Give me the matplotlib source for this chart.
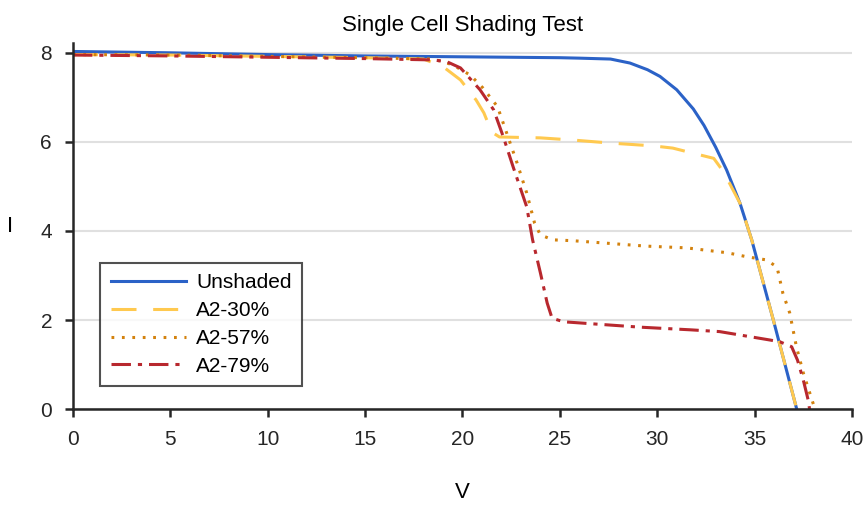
import matplotlib.pyplot as plt
import numpy as np

plt.rcParams['font.family'] = ['Liberation Sans', 'DejaVu Sans']
plt.rcParams['lines.scale_dashes'] = False

# unshaded curve
v_unshaded = [0, 5, 10, 15, 20, 25, 26, 27.6, 28.6, 29.5, 30.14, 31.0, 31.85, 32.4, 33.0,
              33.56, 34.25, 34.85, 35.96, 37.16]
i_unshaded = [8.03, 8.0, 7.96, 7.93, 7.91, 7.89, 7.88, 7.86, 7.77, 7.62, 7.47, 7.17, 6.74, 6.37,
              5.88, 5.37, 4.62, 3.8, 2.0, 0.0]

v_a30 = [0, 5, 10, 15, 18.0, 19.0, 19.9, 20.7, 21.1, 21.5, 21.9, 24.0, 25.7, 27.7, 29.8,
         30.8, 31.8, 32.9, 33.4, 34.25, 34.85, 35.96, 37.16]
i_a30 = [7.96, 7.95, 7.92, 7.89, 7.86, 7.69, 7.39, 6.94, 6.65, 6.22, 6.11, 6.09, 6.04, 5.97,
         5.91, 5.86, 5.75, 5.63, 5.33, 4.62, 3.8, 2.0, 0.0]

v_a57 = [0, 5, 10, 15, 18.5, 19.5, 20.4, 21.05, 21.8, 22.3, 22.8, 23.3, 23.7, 24.0, 24.65,
         25.7, 29.4, 31.5, 33.6, 34.6, 35.6, 36.15, 36.45, 36.8, 37.15, 37.5, 38.0, 38.1]
i_a57 = [7.96, 7.95, 7.92, 7.89, 7.86, 7.73, 7.5, 7.21, 6.79, 6.16, 5.53, 4.85, 4.18, 3.91, 3.8,
         3.78, 3.66, 3.62, 3.51, 3.42, 3.35, 3.19, 2.6, 2.16, 1.39, 0.81, 0.13, 0.0]

v_a79 = [0, 5, 10, 15, 18.5, 19.2, 19.9, 20.9, 21.6, 22.1, 22.6, 23.3, 23.6, 24.0, 24.35,
         24.6, 25.2, 29.1, 31.7, 33.2, 35.8, 36.3, 36.9, 37.2, 37.5, 37.75, 37.82]
i_a79 = [7.95, 7.93, 7.9, 7.87, 7.84, 7.8, 7.66, 7.17, 6.72, 6.11, 5.44, 4.54, 3.8, 3.06, 2.38,
         2.04, 1.96, 1.84, 1.78, 1.74, 1.55, 1.51, 1.4, 1.1, 0.65, 0.2, 0.0]

fig = plt.figure(figsize=(8.68, 5.12), dpi=100)
ax = fig.add_axes([0.084, 0.201, 0.8976, 0.715])

ax.plot(v_unshaded, i_unshaded, color='#2b62c7', lw=2.2, label='Unshaded')
ax.plot(v_a30, i_a30, color='#ffc94f', lw=2.2, linestyle=(0, (18, 12)), label='A2-30%')
ax.plot(v_a57, i_a57, color='#d3820e', lw=2.2, linestyle=(0, (2, 5.5)), label='A2-57%')
ax.plot(v_a79, i_a79, color='#b8282e', lw=2.2, linestyle=(0, (14, 5, 3, 5)), label='A2-79%')

ax.set_xlim(0, 40)
ax.set_ylim(0, 8.22)
ax.set_xticks(np.arange(0, 41, 5))
ax.set_yticks([0, 2, 4, 6, 8])
ax.yaxis.grid(True, color='#e0e0e0', lw=1.5)
ax.set_axisbelow(True)
for s in ['top', 'right']:
    ax.spines[s].set_visible(False)
for s in ['left', 'bottom']:
    ax.spines[s].set_color('#262626')
    ax.spines[s].set_linewidth(1.8)
ax.tick_params(direction='out', length=6, width=1.8, color='#262626', labelsize=15,
               labelcolor='#262626', pad=9)
ax.set_title('Single Cell Shading Test', fontsize=16, pad=9)
ax.set_xlabel('V', fontsize=16, labelpad=24)
ax.set_ylabel('I', fontsize=16, rotation=0, labelpad=22, va='center')

leg = ax.legend(loc='lower left', bbox_to_anchor=(0.035, 0.063), borderaxespad=0, fontsize=15,
                frameon=True, fancybox=False, edgecolor='#262626', handlelength=3.6,
                borderpad=0.5, labelspacing=0.42, handletextpad=0.5)
leg.get_frame().set_linewidth(1.5)

fig.savefig('out.png', dpi=100)
